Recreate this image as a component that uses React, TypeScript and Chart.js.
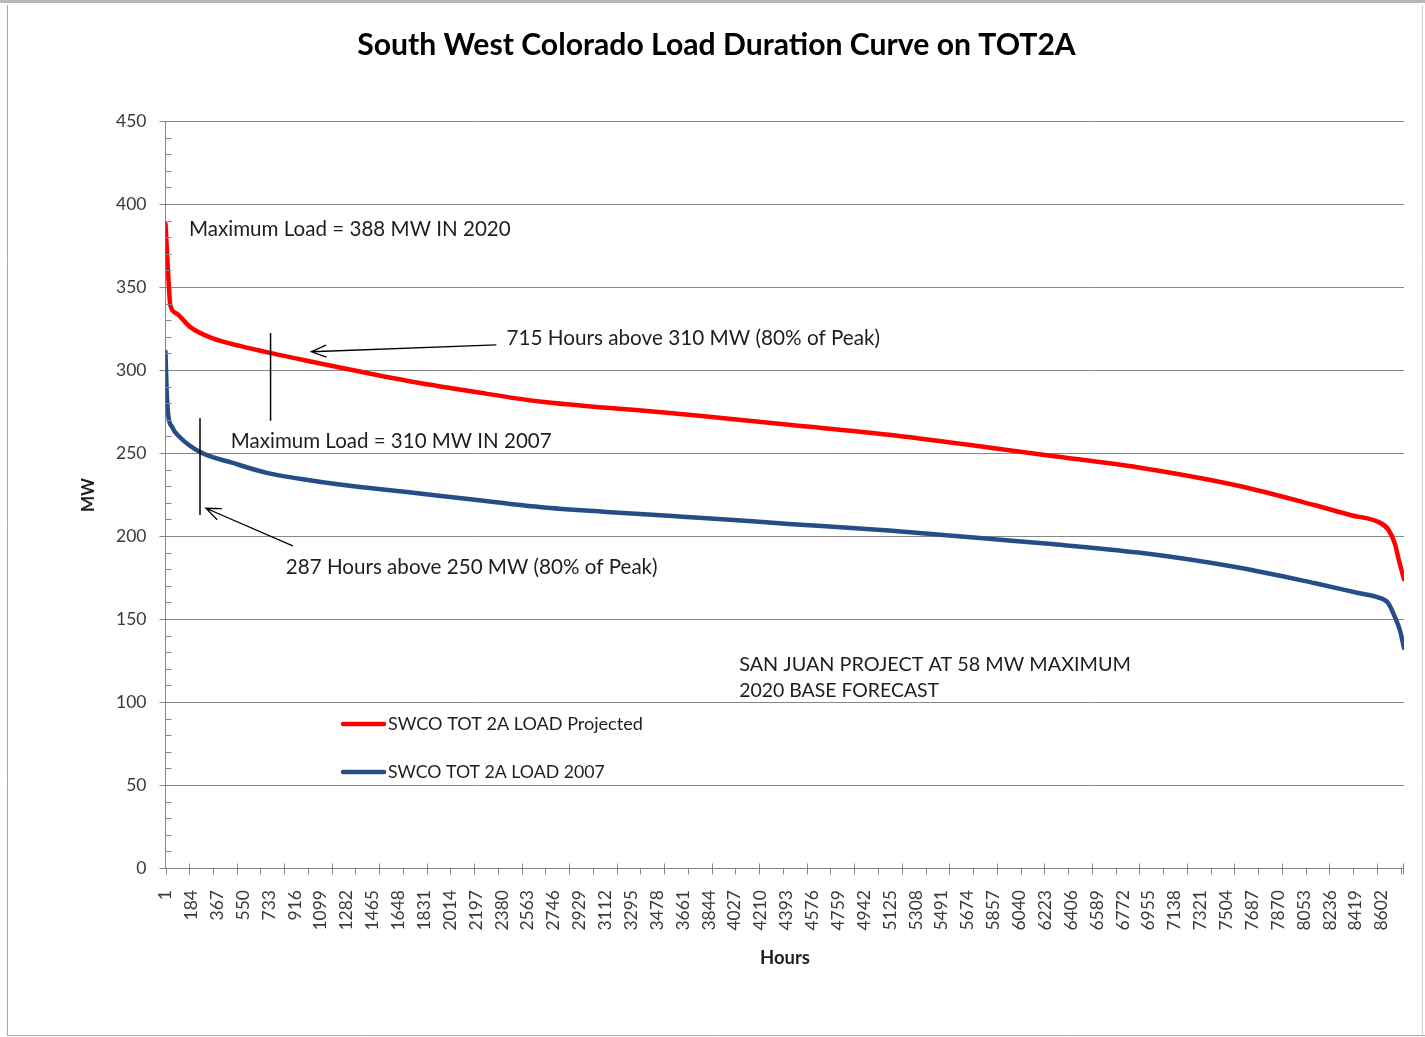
import React, { useEffect, useRef } from "react";
import { Chart, registerables } from "chart.js";

Chart.register(...registerables);

// ---------- data ----------
const chartTitle = "South West Colorado Load Duration Curve on TOT2A";
const xAxisTitle = "Hours";
const yAxisTitle = "MW";
const seriesNames = ["SWCO TOT 2A LOAD Projected", "SWCO TOT 2A LOAD 2007"];

const xTickLabels = [
  1, 184, 367, 550, 733, 916, 1099, 1282, 1465, 1648, 1831, 2014, 2197, 2380,
  2563, 2746, 2929, 3112, 3295, 3478, 3661, 3844, 4027, 4210, 4393, 4576, 4759,
  4942, 5125, 5308, 5491, 5674, 5857, 6040, 6223, 6406, 6589, 6772, 6955, 7138,
  7321, 7504, 7687, 7870, 8053, 8236, 8419, 8602,
];
const yTickValues = [0, 50, 100, 150, 200, 250, 300, 350, 400, 450];

const projectedHours = [
  1, 12, 25, 35, 80, 174, 336, 527, 739, 951, 1233, 1708, 2174, 2647, 3120,
  3586, 3775, 4411, 5117, 5823, 6247, 6882, 7588, 8132, 8386, 8577, 8648, 8697,
  8722, 8760,
];
const projectedLoad = [
  388, 370, 350, 339, 334, 326, 319, 314.5, 310.3, 306.5, 301.5, 293.5, 287,
  281, 277.3, 274, 272.5, 267, 261, 253.3, 248.5, 241.3, 230.3, 218.5, 212.5,
  208.5, 204, 195, 186, 174,
];

const load2007Hours = [
  1, 8, 19, 47, 103, 245, 478, 718, 951, 1233, 1708, 2174, 2647, 3120, 3586,
  3775, 4411, 5117, 5823, 6247, 6882, 7588, 8132, 8436, 8577, 8648, 8697, 8732,
  8760,
];
const load2007Load = [
  311, 290, 274, 265.7, 259.5, 250.6, 244, 238, 234.5, 231, 226.5, 222, 217.5,
  214.5, 212, 211, 207.3, 203.3, 198.3, 195.3, 190, 181, 171.5, 165.7, 163,
  159.6, 151, 143, 132.5,
];

// annotation texts (anchored in data coordinates: hours, MW)
const noteTexts = [
  "Maximum Load = 388 MW IN 2020",
  "715 Hours above 310 MW (80% of Peak)",
  "Maximum Load = 310 MW IN 2007",
  "287 Hours above 250 MW (80% of Peak)",
  "SAN JUAN PROJECT AT 58 MW MAXIMUM",
  "2020 BASE FORECAST",
];
const noteHours = [167, 2412, 463, 852, 4058, 4058];
const noteBaselineMW = [381, 315, 253, 177, 118.5, 103];
const noteWidths = [322, 374, 321, 372, 392, 200];

// ---------- styles ----------
const FONT = "Lato, 'Open Sans', 'DejaVu Sans', sans-serif";
const RED = "#FF0000";
const BLUE = "#264E86";
const GRID = "#878787";
const TICK_COLOR = "#3a3a3a";
const TEXT_COLOR = "#1e1e1e";

function fitFont(ctx: CanvasRenderingContext2D, text: string, width: number, weight: string) {
  ctx.font = `${weight} 20px ${FONT}`;
  const w = ctx.measureText(text).width;
  const size = (20 * width) / w;
  ctx.font = `${weight} ${size}px ${FONT}`;
}

function arrow(ctx: CanvasRenderingContext2D, x1: number, y1: number, x2: number, y2: number) {
  ctx.beginPath();
  ctx.moveTo(x1, y1);
  ctx.lineTo(x2, y2);
  const a = Math.atan2(y1 - y2, x1 - x2);
  const L = 16;
  const s = (22 * Math.PI) / 180;
  ctx.moveTo(x2 + L * Math.cos(a + s), y2 + L * Math.sin(a + s));
  ctx.lineTo(x2, y2);
  ctx.lineTo(x2 + L * Math.cos(a - s), y2 + L * Math.sin(a - s));
  ctx.stroke();
}

const decorPlugin = {
  id: "decor",
  afterDatasetsDraw(chart: any) {
    const ctx: CanvasRenderingContext2D = chart.ctx;
    const xs = chart.scales.x;
    const ys = chart.scales.y;
    const px = (h: number) => xs.getPixelForValue(h);
    const py = (v: number) => ys.getPixelForValue(v);
    ctx.save();
    ctx.strokeStyle = "#000";
    ctx.lineWidth = 1.5;
    // vertical marker lines
    ctx.beginPath();
    ctx.moveTo(px(744), py(322.3));
    ctx.lineTo(px(744), py(269.5));
    ctx.moveTo(px(245), py(271.1));
    ctx.lineTo(px(245), py(212.7));
    ctx.stroke();
    ctx.lineWidth = 1.3;
    arrow(ctx, px(2341), py(315.1), px(1033), py(311));
    arrow(ctx, px(901), py(194), px(287), py(216.7));
    ctx.restore();
  },
  afterDraw(chart: any) {
    const ctx: CanvasRenderingContext2D = chart.ctx;
    const xs = chart.scales.x;
    const ys = chart.scales.y;
    const area = chart.chartArea;
    ctx.save();
    // minor y ticks (inside)
    ctx.strokeStyle = GRID;
    ctx.lineWidth = 1;
    ctx.beginPath();
    for (let v = 10; v < 450; v += 10) {
      if (v % 50 === 0) continue;
      const y = Math.round(ys.getPixelForValue(v)) + 0.5;
      ctx.moveTo(area.left, y);
      ctx.lineTo(area.left + 6, y);
    }
    // x tick marks (every 168 h)
    const yb = Math.round(area.bottom) + 0.5;
    for (let k = 1; k * 168 <= 8760; k++) {
      const x = Math.round(xs.getPixelForValue(k * 168)) + 0.5;
      ctx.moveTo(x, k % 2 === 1 ? yb - 5 : yb);
      ctx.lineTo(x, yb + 6);
    }
    const x0 = Math.round(area.left) + 0.5;
    ctx.moveTo(x0, yb);
    ctx.lineTo(x0, yb + 6);
    const xe = Math.round(area.right) - 0.5;
    ctx.moveTo(xe, yb - 5);
    ctx.lineTo(xe, yb + 6);
    ctx.stroke();

    // title
    ctx.fillStyle = "#000";
    ctx.textBaseline = "alphabetic";
    ctx.textAlign = "center";
    fitFont(ctx, chartTitle, 719, "bold");
    ctx.fillText(chartTitle, 716.5, 55);

    // axis titles
    ctx.fillStyle = TEXT_COLOR;
    fitFont(ctx, xAxisTitle, 50, "bold");
    ctx.fillText(xAxisTitle, 785, 964);
    ctx.save();
    ctx.translate(94, 495);
    ctx.rotate(-Math.PI / 2);
    fitFont(ctx, yAxisTitle, 34, "bold");
    ctx.fillText(yAxisTitle, 0, 0);
    ctx.restore();

    // annotation texts
    ctx.textAlign = "left";
    ctx.fillStyle = TEXT_COLOR;
    noteTexts.forEach((t, i) => {
      fitFont(ctx, t, noteWidths[i], "normal");
      ctx.fillText(t, xs.getPixelForValue(noteHours[i]), ys.getPixelForValue(noteBaselineMW[i]));
    });

    // legend
    const legendColors = [RED, BLUE];
    const legendY = [724, 772];
    const legendW = [255, 217];
    seriesNames.forEach((name, i) => {
      ctx.strokeStyle = legendColors[i];
      ctx.lineWidth = 4.5;
      ctx.lineCap = "round";
      ctx.beginPath();
      ctx.moveTo(343, legendY[i]);
      ctx.lineTo(384, legendY[i]);
      ctx.stroke();
      ctx.fillStyle = TEXT_COLOR;
      fitFont(ctx, name, legendW[i], "normal");
      ctx.fillText(name, 388, legendY[i] + 5.5);
    });

    // outer frame
    ctx.lineCap = "butt";
    ctx.lineWidth = 1;
    ctx.strokeStyle = "#a8a8a8";
    ctx.fillStyle = "#b8b8b8";
    ctx.fillRect(0, 0, 1425, 3);
    ctx.beginPath();
    ctx.moveTo(7.5, 5);
    ctx.lineTo(7.5, 1035.5);
    ctx.lineTo(1425, 1035.5);
    ctx.stroke();
    ctx.strokeStyle = "#d0d0d0";
    ctx.beginPath();
    ctx.moveTo(1422.5, 5);
    ctx.lineTo(1422.5, 1035);
    ctx.stroke();
    ctx.restore();
  },
};

export default function App() {
  const ref = useRef<HTMLCanvasElement>(null);
  useEffect(() => {
    const canvas = ref.current;
    if (!canvas) return;
    const chart = new Chart(canvas, {
      type: "line",
      data: {
        datasets: [
          {
            label: seriesNames[0],
            data: projectedHours.map((h, i) => ({ x: h, y: projectedLoad[i] })),
            borderColor: RED,
            backgroundColor: RED,
            borderWidth: 4.5,
            pointRadius: 0,
            cubicInterpolationMode: "monotone",
            borderCapStyle: "round",
            borderJoinStyle: "round",
            fill: false,
          },
          {
            label: seriesNames[1],
            data: load2007Hours.map((h, i) => ({ x: h, y: load2007Load[i] })),
            borderColor: BLUE,
            backgroundColor: BLUE,
            borderWidth: 4.5,
            pointRadius: 0,
            cubicInterpolationMode: "monotone",
            borderCapStyle: "round",
            borderJoinStyle: "round",
            fill: false,
          },
        ],
      },
      options: {
        responsive: false,
        animation: false,
        devicePixelRatio: 1,
        events: [],
        layout: { padding: { left: 0, right: 19, top: 121, bottom: 69 } },
        plugins: {
          legend: { display: false },
          title: { display: false },
          tooltip: { enabled: false },
        },
        scales: {
          x: {
            type: "linear",
            min: 1,
            max: 8760,
            afterBuildTicks: (s: any) => {
              s.ticks = xTickLabels.map((v) => ({ value: v }));
            },
            afterFit: (s: any) => {
              s.height = 100;
            },
            ticks: {
              autoSkip: false,
              minRotation: 90,
              maxRotation: 90,
              padding: 22,
              color: TICK_COLOR,
              font: { family: FONT, size: 17.5 },
              callback: (v: any) => String(v),
            },
            grid: { display: false, drawTicks: false },
            border: { display: true, color: GRID, width: 1 },
          },
          y: {
            type: "linear",
            min: 0,
            max: 450,
            afterBuildTicks: (s: any) => {
              s.ticks = yTickValues.map((v) => ({ value: v }));
            },
            afterFit: (s: any) => {
              s.width = 165.5;
            },
            ticks: {
              padding: 13,
              color: TICK_COLOR,
              font: { family: FONT, size: 17.5 },
              callback: (v: any) => String(v),
            },
            grid: { color: GRID, lineWidth: 1, drawTicks: true, tickLength: 6 },
            border: { display: true, color: GRID, width: 1 },
          },
        },
      },
      plugins: [decorPlugin],
    } as any);
    return () => chart.destroy();
  }, []);
  return (
    <div style={{ position: "fixed", left: 0, top: 0, width: 1425, height: 1037, background: "#fff" }}>
      <canvas ref={ref} width={1425} height={1037} style={{ display: "block", width: 1425, height: 1037 }} />
    </div>
  );
}
